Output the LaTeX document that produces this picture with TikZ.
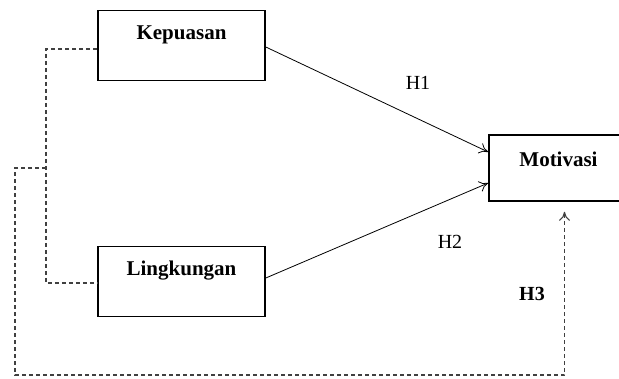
\documentclass[tikz,border=0pt]{standalone}
\usepackage{fontspec}
\setmainfont{Liberation Serif}
\usetikzlibrary{arrows.meta}

\begin{document}
\begin{tikzpicture}[x=1pt,y=-1pt,>={To[length=9pt,width=11pt]},
    varbox/.style={draw,line width=1.6pt,inner sep=0pt,minimum width=167pt,
      text height=29pt,text depth=41pt,font=\fontsize{21}{24}\selectfont\bfseries},
    hyplabel/.style={font=\fontsize{20}{23}\selectfont},
    dashline/.style={draw=black!75,line width=1.1pt,dash pattern=on 4pt off 3pt}]
    \useasboundingbox (0,0) rectangle (619,378);
    % Variables
    \node[varbox] (kep) at (181.5,45.5) {Kepuasan};
    \node[varbox] (ling) at (181.5,281.5) {Lingkungan};
    \node[varbox,minimum width=139pt,text height=31pt,text depth=35pt] (mot) at (558.5,168) {Motivasi};
    % Direct paths
    \draw[->,line width=0.8pt] ([yshift=-1.5pt]kep.east) -- ([yshift=16pt]mot.west);
    \draw[->,line width=0.8pt] ([yshift=3.5pt]ling.east) -- ([yshift=-15pt]mot.west);
    \node[hyplabel] (h1) at (418,83) {H1};
    \node[hyplabel] (h2) at (450,242) {H2};
    % Simultaneous path
    \coordinate (split) at (46,168);
    \coordinate (corner) at (15,375);
    \draw[dashline] ([yshift=-3.5pt]kep.west) -| (split) |- ([yshift=-1.5pt]ling.west);
    \draw[dashline,->,shorten >=10pt] (split) -| (corner) -| ([xshift=6pt]mot.south);
    \node[hyplabel,font=\fontsize{20}{23}\selectfont\bfseries] (h3) at (532,294) {H3};
  \end{tikzpicture}
\end{document}
